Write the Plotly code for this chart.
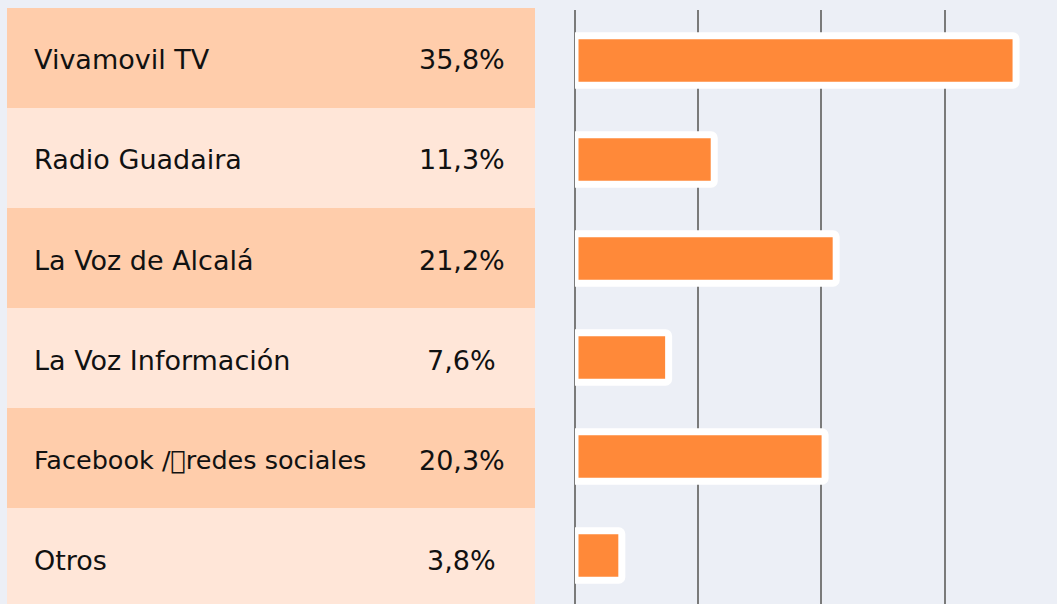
import plotly.graph_objects as go

# ---- data ----
categories = [
    "Vivamovil TV",
    "Radio Guadaira",
    "La Voz de Alcalá",
    "La Voz Información",
    "Facebook /\u20deredes sociales",
    "Otros",
]
values = [35.8, 11.3, 21.2, 7.6, 20.3, 3.8]
pct_labels = [f"{v:.1f}%".replace(".", ",") for v in values]

# ---- style ----
W, H = 1057, 604
BG = "#ECEFF6"
ROW_DARK = "#FFCDAB"
ROW_LIGHT = "#FFE6D8"
BAR = "#FF8939"
FONT = "DejaVu Sans"
FS = 27.0
label_sizes = [FS, FS, FS, FS, 25.5, FS]

idx = list(range(len(categories)))
row_colors = [ROW_DARK if i % 2 == 0 else ROW_LIGHT for i in idx]

fig = go.Figure()

# table rows
fig.add_trace(go.Bar(
    x=[1] * len(idx), y=idx, base=0, width=1, orientation="h",
    marker=dict(color=row_colors, line=dict(width=0)),
    xaxis="x2", yaxis="y2", hoverinfo="skip", showlegend=False,
))

# data bars
fig.add_trace(go.Bar(
    x=values, y=idx, orientation="h", width=0.5,
    marker=dict(color=BAR, line=dict(color="white", width=7), cornerradius=3),
    xaxis="x", yaxis="y", hoverinfo="skip", showlegend=False,
))

annotations = []
for i, (c, p) in enumerate(zip(categories, pct_labels)):
    annotations.append(dict(
        x=(32 - 7) / 528, y=i + 0.02, xref="x2", yref="y2", text=c,
        xanchor="left", yanchor="middle", showarrow=False,
        font=dict(family=FONT, size=label_sizes[i], color="#111111"),
    ))
    annotations.append(dict(
        x=(461.5 - 7) / 528, y=i + 0.02, xref="x2", yref="y2", text=p,
        xanchor="center", yanchor="middle", showarrow=False,
        font=dict(family=FONT, size=FS, color="#111111"),
    ))

px_per_unit = 12.32
fig.update_layout(
    width=W, height=H,
    margin=dict(l=0, r=0, t=0, b=0, pad=0),
    paper_bgcolor=BG, plot_bgcolor=BG,
    barmode="overlay",
    showlegend=False,
    annotations=annotations,
    xaxis=dict(
        domain=[575 / W, 1], range=[0, (W - 575) / px_per_unit],
        dtick=10, tick0=0, showgrid=True, gridcolor="#7A7A7A", gridwidth=1.5,
        zeroline=True, zerolinecolor="#7A7A7A", zerolinewidth=1.5,
        showticklabels=False, showline=False, ticks="", fixedrange=True,
    ),
    yaxis=dict(
        domain=[0, 1 - 10 / H], range=[(H - 60.5) / 99, (10 - 60.5) / 99],
        showgrid=False, zeroline=False, showticklabels=False, ticks="",
        anchor="x",
    ),
    xaxis2=dict(
        domain=[7 / W, 535 / W], range=[0, 1], visible=False, anchor="y2",
    ),
    yaxis2=dict(
        domain=[0, 1 - 8 / H], range=[-0.5 + (H - 8) / 100, -0.5],
        visible=False, anchor="x2",
    ),
)

fig.write_html(
    "out.html",
    config={"displayModeBar": False},
    post_script="document.body.style.margin='0px';document.body.style.background='%s';" % BG,
)
